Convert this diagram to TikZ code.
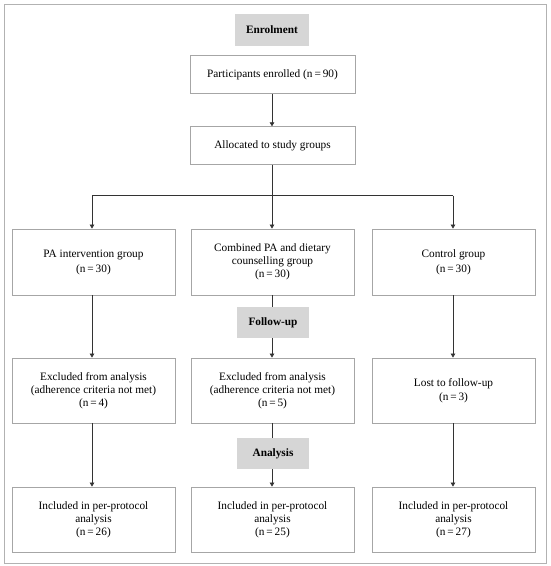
\documentclass[tikz,border=0pt]{standalone}
\usepackage{fontspec}
\setmainfont{Liberation Serif}
\usetikzlibrary{arrows.meta,calc}
\begin{document}
\begin{tikzpicture}[x=1pt,y=-1pt,
  box/.style={draw=black!35, line width=0.8pt, minimum width=163pt, minimum height=65pt, align=center, inner sep=2pt, font=\fontsize{11.3}{12.8}\selectfont},
  head/.style={fill=black!16, minimum width=72pt, minimum height=31pt, inner sep=2pt, font=\fontsize{11.3}{12.8}\selectfont\bfseries},
  conn/.style={draw=black!80, line width=0.7pt},
  arr/.style={conn, -{Triangle[length=4pt,width=4.5pt]}}
]
\useasboundingbox (0,0) rectangle (550,566);
\node[draw=black!30, line width=0.8pt, minimum width=542pt, minimum height=559pt, inner sep=0pt] (frame) at (275,283.5) {};

\node[head, minimum width=74pt, minimum height=32pt] (enrol) at (272,29.5) {Enrolment};
\node[box, minimum width=165pt, minimum height=38pt] (part) at (272.5,74.5) {Participants enrolled (n\,=\,90)};
\node[box, minimum width=165pt, minimum height=37.5pt] (alloc) at (272.5,145.5) {Allocated to study groups};

\node[box, minimum height=66pt] (g1) at (93.5,262) {PA intervention group\\[2.2pt](n\,=\,30)};
\node[box, minimum height=66pt] (g2) at (272.5,262) {Combined PA and dietary\\counselling group\\(n\,=\,30)};
\node[box, minimum height=66pt] (g3) at (453.5,262) {Control group\\[2.2pt](n\,=\,30)};

\node[head] (follow) at (273,322.5) {Follow-up};

\node[box] (e1) at (93.5,390.5) {Excluded from analysis\\(adherence criteria not met)\\(n\,=\,4)};
\node[box] (e2) at (272.5,390.5) {Excluded from analysis\\(adherence criteria not met)\\(n\,=\,5)};
\node[box] (e3) at (453.5,390.5) {Lost to follow-up\\[1.2pt](n\,=\,3)};

\node[head] (analysis) at (273,453.5) {Analysis};

\node[box] (i1) at (93.5,519.5) {Included in per-protocol\\analysis\\(n\,=\,26)};
\node[box] (i2) at (272.5,519.5) {Included in per-protocol\\analysis\\(n\,=\,25)};
\node[box] (i3) at (453.5,519.5) {Included in per-protocol\\analysis\\(n\,=\,27)};

\coordinate (split) at (272,195.5);

\draw[arr] (part.south -| 272,0) -- (alloc.north -| 272,0);
\draw[arr] (alloc.south -| 272,0) -- (g2.north -| 272,0);
\draw[conn] (split -| 92,0) -- (split -| 453,0);
\draw[arr] (split -| 92,0) -- (g1.north -| 92,0);
\draw[arr] (split -| 453,0) -- (g3.north -| 453,0);

\draw[arr] (g1.south -| 92,0) -- (e1.north -| 92,0);
\draw[conn] (g2.south -| 272,0) -- (follow.north -| 272,0);
\draw[arr] (follow.south -| 272,0) -- (e2.north -| 272,0);
\draw[arr] (g3.south -| 453,0) -- (e3.north -| 453,0);

\draw[arr] (e1.south -| 92,0) -- (i1.north -| 92,0);
\draw[conn] (e2.south -| 272,0) -- (analysis.north -| 272,0);
\draw[arr] (analysis.south -| 272,0) -- (i2.north -| 272,0);
\draw[arr] (e3.south -| 453,0) -- (i3.north -| 453,0);
\end{tikzpicture}
\end{document}
